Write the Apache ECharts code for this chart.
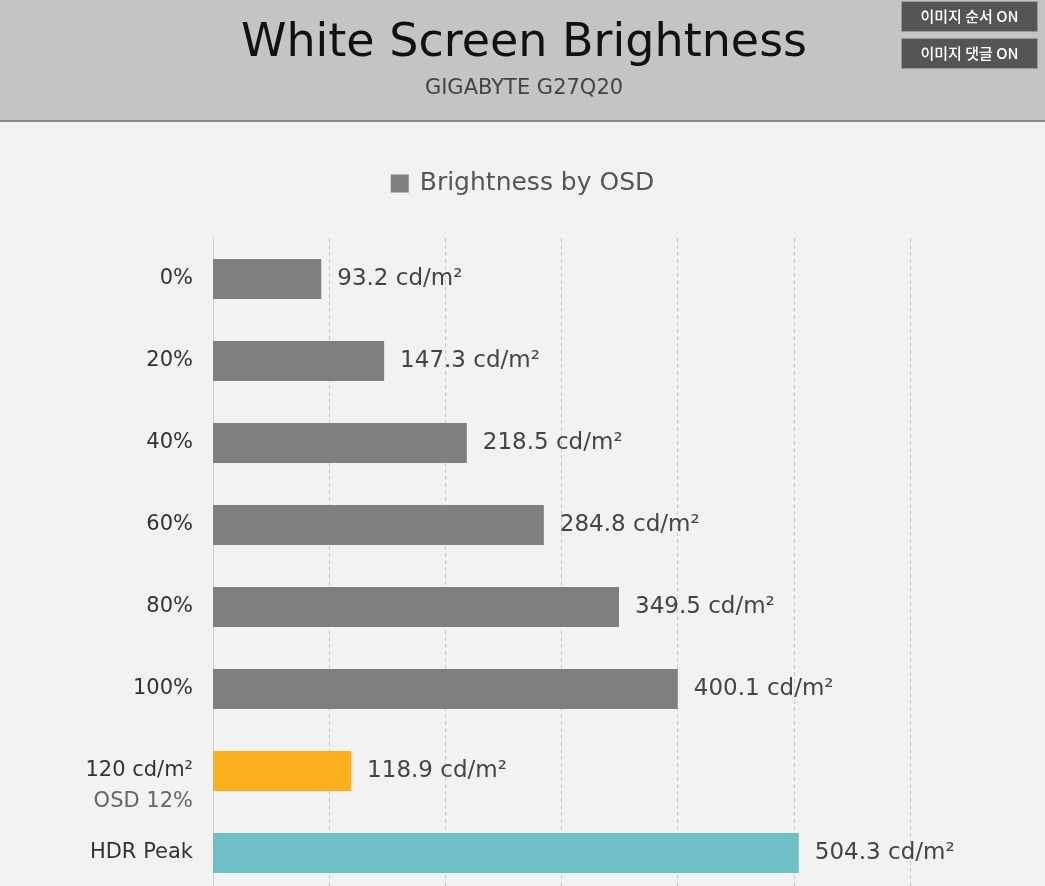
<!DOCTYPE html>
<html>
<head>
<meta charset="utf-8">
<script src="https://cdn.jsdelivr.net/npm/echarts@6/dist/echarts.min.js"></script>
<style>
  html, body { margin: 0; padding: 0; background: #f2f2f2; overflow: hidden; }
  /* the plot runs a little past the bottom edge of the window */
  #chart { width: 1045px; height: 894px; }
</style>
</head>
<body>
<div id="chart"></div>
<script>
// Measured white-screen luminance per OSD setting
const categories = ['0%', '20%', '40%', '60%', '80%', '100%', '120 cd/m²\nOSD 12%', 'HDR Peak'];
const brightness = [93.2, 147.3, 218.5, 284.8, 349.5, 400.1, 118.9, 504.3];
const barColors = ['#7f7f7f', '#7f7f7f', '#7f7f7f', '#7f7f7f', '#7f7f7f', '#7f7f7f', '#fbb01d', '#6fbfc6'];
const xTicks = [0, 100, 200, 300, 400, 500, 600];
const unit = ' cd/m²';

const FONT = '"DejaVu Sans", "Noto Sans CJK KR", sans-serif';
const chart = echarts.init(document.getElementById('chart'), null, { renderer: 'canvas' });

chart.setOption({
  backgroundColor: '#f2f2f2',
  animation: false,
  graphic: [
    { type: 'rect', z: 0, shape: { x: 0, y: 0, width: 1045, height: 121 }, style: { fill: '#c4c4c4' } },
    { type: 'rect', z: 1, shape: { x: 0, y: 120, width: 1045, height: 2 }, style: { fill: '#8a8a8a' } },
    { type: 'text', z: 2, x: 524, y: 44, style: { text: 'White Screen Brightness', font: '46px ' + FONT, fill: '#111', align: 'center', verticalAlign: 'middle' } },
    { type: 'text', z: 2, x: 524, y: 89, style: { text: 'GIGABYTE G27Q20', font: '21px ' + FONT, fill: '#444', align: 'center', verticalAlign: 'middle' } },
    { type: 'rect', z: 2, shape: { x: 901.5, y: 1.5, width: 136, height: 30 }, style: { fill: '#555', stroke: '#999', lineWidth: 1 } },
    { type: 'text', z: 3, x: 969.5, y: 16.5, style: { text: '이미지 순서 ON', font: '500 15px "Noto Sans CJK KR", sans-serif', fill: '#fff', align: 'center', verticalAlign: 'middle' } },
    { type: 'rect', z: 2, shape: { x: 901.5, y: 38.5, width: 136, height: 30 }, style: { fill: '#555', stroke: '#999', lineWidth: 1 } },
    { type: 'text', z: 3, x: 969.5, y: 53.5, style: { text: '이미지 댓글 ON', font: '500 15px "Noto Sans CJK KR", sans-serif', fill: '#fff', align: 'center', verticalAlign: 'middle' } }
  ],
  legend: {
    data: ['Brightness by OSD'],
    top: 166,
    left: 'center',
    icon: 'rect',
    itemWidth: 18,
    itemHeight: 18,
    itemGap: 11,
    textStyle: { fontFamily: FONT, fontSize: 25, color: '#555', padding: [0, 0, 0, 6] }
  },
  grid: { left: 213, right: 135, top: 238, bottom: 0, containLabel: false },
  xAxis: {
    type: 'value',
    min: xTicks[0],
    max: xTicks[xTicks.length - 1],
    interval: xTicks[1] - xTicks[0],
    axisLabel: { show: false },
    axisLine: { show: false },
    axisTick: { show: false },
    splitLine: { show: true, lineStyle: { color: '#c8c8c8', type: [4, 3], width: 1 } }
  },
  yAxis: {
    type: 'category',
    data: categories,
    inverse: true,
    axisLine: { show: true, lineStyle: { color: '#cfcfcf', width: 1 } },
    axisTick: { show: false },
    axisLabel: {
      margin: 20,
      fontFamily: FONT,
      fontSize: 21,
      color: '#333',
      align: 'right',
      formatter: function (v) {
        const parts = v.split('\n');
        // keep the first line centred on the bar, second line hanging below it
        if (parts.length > 1) return '{blank| }\n{main|' + parts[0] + '}\n{sub|' + parts[1] + '}';
        return v;
      },
      rich: {
        blank: { fontFamily: FONT, fontSize: 21, lineHeight: 31 },
        main: { fontFamily: FONT, fontSize: 21, color: '#333', lineHeight: 31, align: 'right' },
        sub: { fontFamily: FONT, fontSize: 21, color: '#666', lineHeight: 31, align: 'right' }
      }
    }
  },
  series: [{
    name: 'Brightness by OSD',
    type: 'bar',
    barWidth: 40,
    itemStyle: { color: '#7f7f7f' },
    data: brightness.map((v, i) => ({ value: v, itemStyle: { color: barColors[i] } })),
    label: {
      show: true,
      position: 'right',
      distance: 16,
      fontFamily: FONT,
      fontSize: 23,
      color: '#444',
      formatter: p => p.value + unit
    }
  }]
});
</script>
</body>
</html>
